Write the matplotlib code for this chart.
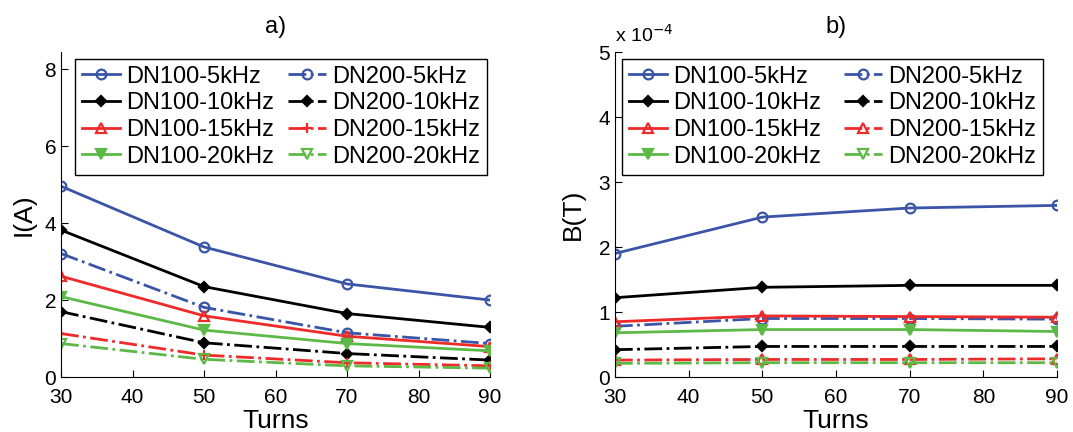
import numpy as np
import matplotlib
matplotlib.use("Agg")
import matplotlib.pyplot as plt

plt.rcParams['font.family'] = ['Liberation Sans', 'DejaVu Sans']

turns = [30, 50, 70, 90]

# a) current I(A)
i_dn100_5k = [4.96, 3.38, 2.42, 2.00]
i_dn100_10k = [3.82, 2.35, 1.65, 1.29]
i_dn100_15k = [2.62, 1.59, 1.06, 0.79]
i_dn100_20k = [2.09, 1.22, 0.87, 0.68]
i_dn200_5k = [3.21, 1.81, 1.15, 0.87]
i_dn200_10k = [1.70, 0.89, 0.61, 0.44]
i_dn200_15k = [1.13, 0.57, 0.37, 0.29]
i_dn200_20k = [0.87, 0.46, 0.29, 0.23]

# b) flux density B(T), units of 1e-4
b_dn100_5k = [1.90, 2.46, 2.60, 2.64]
b_dn100_10k = [1.22, 1.38, 1.41, 1.41]
b_dn100_15k = [0.85, 0.94, 0.93, 0.92]
b_dn100_20k = [0.68, 0.73, 0.73, 0.70]
b_dn200_5k = [0.78, 0.90, 0.90, 0.89]
b_dn200_10k = [0.42, 0.47, 0.47, 0.47]
b_dn200_15k = [0.26, 0.27, 0.27, 0.28]
b_dn200_20k = [0.21, 0.22, 0.22, 0.22]

labels_100 = ['DN100-5kHz', 'DN100-10kHz', 'DN100-15kHz', 'DN100-20kHz']
labels_200 = ['DN200-5kHz', 'DN200-10kHz', 'DN200-15kHz', 'DN200-20kHz']

BLUE = '#3a55a8'
BLACK = '#000000'
RED = '#ee2a2a'
GREEN = '#5cb946'
colors = [BLUE, BLACK, RED, GREEN]

fig = plt.figure(figsize=(10.73, 4.32), dpi=100)
ax1 = fig.add_axes([0.0569, 0.1273, 0.3998, 0.7523])
ax2 = fig.add_axes([0.5731, 0.1273, 0.4120, 0.7523])


def style_for(idx, dn200, panel):
    c = colors[idx]
    if idx == 0:
        m, fc = 'o', 'none'
    elif idx == 1:
        m, fc = 'D', c
    elif idx == 2:
        if dn200 and panel == 'a':
            m, fc = '+', c
        else:
            m, fc = '^', 'none'
    else:
        m, fc = 'v', ('none' if dn200 else c)
    ls = '-.' if dn200 else '-'
    ms = 5 if m == 'D' else 7
    return dict(color=c, marker=m, markerfacecolor=fc, markeredgecolor=c,
                linestyle=ls, linewidth=2, markersize=ms, markeredgewidth=1.6)


def draw(ax, s100, s200, panel, scale=1.0):
    handles = []
    for k, ys in enumerate(s100):
        h, = ax.plot(turns, np.array(ys) * scale, label=labels_100[k],
                     **style_for(k, False, panel))
        handles.append(h)
    for k, ys in enumerate(s200):
        h, = ax.plot(turns, np.array(ys) * scale, label=labels_200[k],
                     **style_for(k, True, panel), zorder=1.9)
        handles.append(h)
    ax.set_xlim(30, 90)
    ax.set_xticks([30, 40, 50, 60, 70, 80, 90])
    ax.spines['top'].set_visible(False)
    ax.spines['right'].set_visible(False)
    ax.tick_params(direction='in', labelsize=15, length=5)
    ax.tick_params(axis='x', pad=8)
    ax.set_xlabel('Turns', fontsize=19, labelpad=1)
    return handles


h1 = draw(ax1, [i_dn100_5k, i_dn100_10k, i_dn100_15k, i_dn100_20k],
          [i_dn200_5k, i_dn200_10k, i_dn200_15k, i_dn200_20k], 'a')
ax1.set_ylim(0, 8.45)
ax1.set_yticks([0, 2, 4, 6, 8])
ax1.set_ylabel('I(A)', fontsize=19, labelpad=6)
ax1.set_title('a)', fontsize=17, pad=14)

h2 = draw(ax2, [b_dn100_5k, b_dn100_10k, b_dn100_15k, b_dn100_20k],
          [b_dn200_5k, b_dn200_10k, b_dn200_15k, b_dn200_20k], 'b', 1e-4)
ax2.set_ylim(0, 5e-4)
ax2.set_yticks([0, 1e-4, 2e-4, 3e-4, 4e-4, 5e-4])
ax2.set_yticklabels(['0', '1', '2', '3', '4', '5'])
ax2.set_ylabel('B(T)', fontsize=19, labelpad=10)
ax2.set_title('b)', fontsize=17, pad=14)
ax2.text(0.0, 1.02, r'x 10$^{-4}$', transform=ax2.transAxes, fontsize=14,
         ha='left', va='bottom')

for ax, hs, bb in [(ax1, h1, (0.033, 0.60, 0.96, 0.38)),
                   (ax2, h2, (0.016, 0.60, 0.952, 0.38))]:
    leg = ax.legend(handles=hs, ncol=2, loc='upper left', bbox_to_anchor=bb,
                    mode='expand', fontsize=17, frameon=True, fancybox=False,
                    edgecolor='black', framealpha=1, borderaxespad=0,
                    handlelength=1.6, handletextpad=0.25, labelspacing=0.2,
                    columnspacing=1.0, borderpad=0.3)
    leg.get_frame().set_linewidth(1.0)

fig.savefig('out.png', dpi=100)
